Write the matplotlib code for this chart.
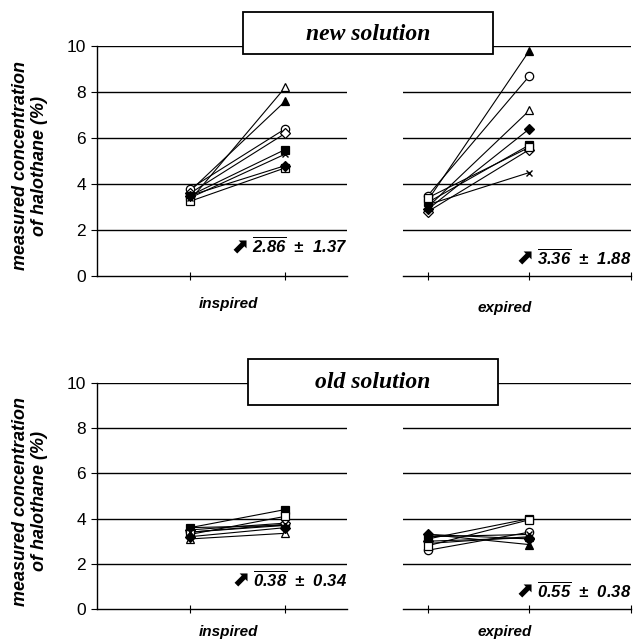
import matplotlib
matplotlib.use("Agg")
import matplotlib.pyplot as plt
from matplotlib.patches import Rectangle

plt.rcParams['font.family'] = ['Liberation Sans', 'DejaVu Sans']
plt.rcParams['mathtext.fontset'] = 'custom'
plt.rcParams['mathtext.rm'] = 'Liberation Sans:bold:italic'
plt.rcParams['mathtext.it'] = 'Liberation Sans:bold:italic'
plt.rcParams['mathtext.bf'] = 'Liberation Sans:bold:italic'

# subjects: marker shape and whether filled
markers = ['^', '^', 'o', 'D', 's', 's', 'x', 'D']
filled = [False, True, False, False, True, False, False, True]

# new solution
new_insp_pre = [3.3, 3.7, 3.8, 3.6, 3.5, 3.25, 3.4, 3.5]
new_insp_post = [8.2, 7.6, 6.4, 6.2, 5.5, 4.7, 5.3, 4.8]
new_exp_pre = [3.0, 3.3, 3.5, 2.8, 3.2, 3.4, 3.1, 2.9]
new_exp_post = [7.2, 9.8, 8.7, 5.5, 5.7, 5.6, 4.5, 6.4]

# old solution
old_insp_pre = [3.1, 3.6, 3.4, 3.5, 3.6, 3.3, 3.4, 3.2]
old_insp_post = [3.35, 3.7, 3.7, 3.8, 4.4, 4.1, 3.75, 3.6]
old_exp_pre = [2.9, 3.3, 2.6, 3.0, 3.1, 2.8, 3.2, 3.3]
old_exp_post = [3.2, 2.85, 3.4, 3.15, 4.0, 3.95, 3.3, 3.1]

titles = ['new solution', 'old solution']
annot = [('2.86', '1.37', '3.36', '1.88'), ('0.38', '0.34', '0.55', '0.38')]

W, H = 636, 643
fig = plt.figure(figsize=(W / 100, H / 100), dpi=100)


def fx(px):
    return px / W


def fy(py):
    return 1 - py / H


def draw_lines(ax, pre, post):
    for i in range(len(pre)):
        ax.plot([1, 2], [pre[i], post[i]], color='black', lw=0.8, zorder=2)
        fc = 'black' if filled[i] else 'white'
        ms = 6 if markers[i] != 'D' else 5
        if markers[i] == 'x':
            ax.plot([1, 2], [pre[i], post[i]], ls='none', marker='x', ms=5,
                    mec='black', mew=1.0, zorder=3)
        else:
            ax.plot([1, 2], [pre[i], post[i]], ls='none', marker=markers[i],
                    ms=ms, mfc=fc, mec='black', mew=0.9, zorder=3)


def style_axes(ax, left):
    ax.set_ylim(0, 10)
    for y in [2, 4, 6, 8, 10]:
        ax.axhline(y, color='black', lw=1.0, zorder=1)
    ax.spines['top'].set_visible(False)
    ax.spines['right'].set_visible(False)
    ax.spines['bottom'].set_linewidth(1.0)
    ax.set_xticklabels([])
    ax.tick_params(axis='x', direction='inout', length=6, width=0.8)
    if left:
        ax.spines['left'].set_linewidth(1.0)
        ax.set_yticks([0, 2, 4, 6, 8, 10])
        ax.tick_params(axis='y', direction='out', length=4, width=0.8,
                       labelsize=12.5, pad=4)
    else:
        ax.spines['left'].set_visible(False)
        ax.set_yticks([])


def add_annot(ax, mean, sd, yv):
    t = ax.text(ax.get_xlim()[1], yv, r'$\overline{%s}$  ±  %s' % (mean, sd),
                ha='right', va='center', fontsize=12, fontweight='bold',
                fontstyle='italic')
    ax.annotate('⬈', xy=(0, 0.45), xycoords=t, xytext=(-3, 0),
                textcoords='offset points', ha='right', va='center',
                fontsize=15, fontweight='bold', family='DejaVu Sans')


# pixel layout: (y of value 10, y of value 0)
rows = [(46, 276), (383, 609)]
label_y = [(304, 308), (632, 632)]
data = [(new_insp_pre, new_insp_post, new_exp_pre, new_exp_post),
        (old_insp_pre, old_insp_post, old_exp_pre, old_exp_post)]
boxes = [(243, 12, 493, 54), (248, 359, 498, 405)]

for r in range(2):
    top, bot = rows[r]
    axl = fig.add_axes([fx(97), fy(bot), fx(347 - 97), (bot - top) / H])
    axr = fig.add_axes([fx(403), fy(bot), fx(631 - 403), (bot - top) / H])
    axl.set_xlim(0.02, 2.65)
    axl.set_xticks([1, 2])
    axr.set_xlim(0.755, 3.0)
    axr.set_xticks([1, 2, 3])
    style_axes(axl, True)
    style_axes(axr, False)
    pre_i, post_i, pre_e, post_e = data[r]
    draw_lines(axl, pre_i, post_i)
    draw_lines(axr, pre_e, post_e)
    m1, s1, m2, s2 = annot[r]
    add_annot(axl, m1, s1, 1.3)
    add_annot(axr, m2, s2, 0.8)

    # category labels
    fig.text(fx(228), fy(label_y[r][0]), 'inspired', ha='center', va='center',
             fontsize=11, fontweight='bold', fontstyle='italic')
    fig.text(fx(505), fy(label_y[r][1]), 'expired', ha='center', va='center',
             fontsize=11, fontweight='bold', fontstyle='italic')

    # y label
    fig.text(fx(30), fy((top + bot) / 2 + 5),
             'measured concentration\nof halothane (%)', rotation=90,
             ha='center', va='center', fontsize=13, fontweight='bold',
             fontstyle='italic', linespacing=1.1)

    # title box
    x0, y0, x1, y1 = boxes[r]
    fig.add_artist(Rectangle((fx(x0), fy(y1)), fx(x1 - x0), (y1 - y0) / H,
                             transform=fig.transFigure, facecolor='white',
                             edgecolor='black', lw=1.3, zorder=5))
    fig.text(fx((x0 + x1) / 2), fy((y0 + y1) / 2 + 1), titles[r],
             ha='center', va='center', fontsize=17, fontweight='bold',
             fontstyle='italic', family='Liberation Serif', zorder=6)

fig.savefig('out.png', dpi=100)
